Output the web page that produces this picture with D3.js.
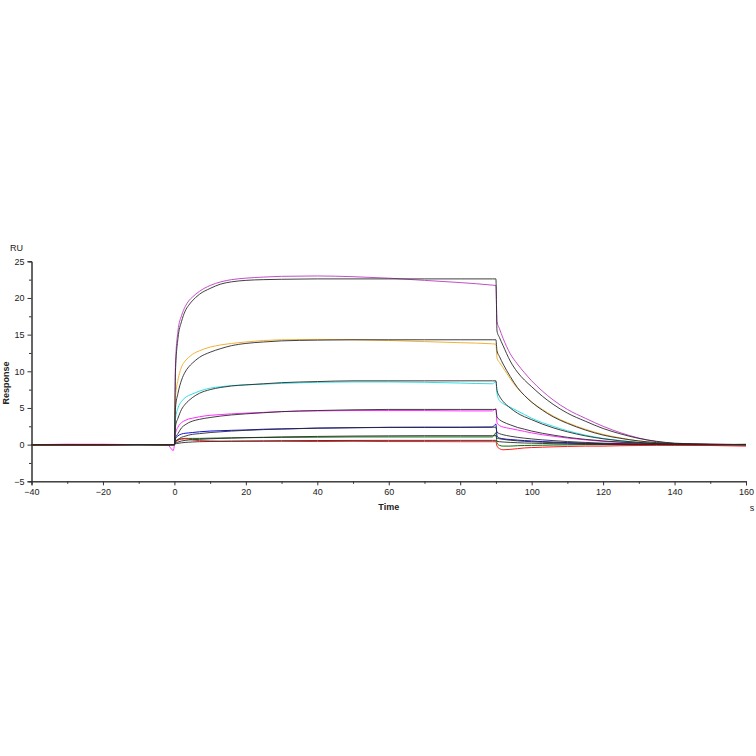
<!DOCTYPE html>
<html><head><meta charset="utf-8">
<script src="https://cdn.jsdelivr.net/npm/d3@7"></script>
<style>
html,body{margin:0;padding:0;background:#fff;}
svg{display:block;}
text{font-family:"Liberation Sans",Arial,sans-serif;fill:#222;}
</style></head>
<body>
<svg id="c" width="756" height="756"></svg>
<script>
// ---- data ----
const tBase  = [-40, -30, -20, -10, -2, -0.3];
const tAssoc = [0, 0.3, 1, 2, 3, 4, 5, 7, 10, 13, 16, 20, 25, 30, 40, 50, 60, 70, 80, 89, 90];
const tDiss  = [90.3, 91, 92, 94, 96, 98, 100, 103, 106, 110, 115, 120, 125, 130, 135, 140, 150, 160];

const data1 = [0, 0.03, 0, 0.02, 0, 0,
  0, 11, 15.5, 17.6, 18.8, 19.6, 20.1, 20.9, 21.7, 22.2, 22.5, 22.7, 22.85, 22.95, 23.0, 22.9, 22.7, 22.4, 22.1, 21.75, 21.7,
  16.8, 15.8, 14.5, 12.4, 11.0, 9.8, 8.7, 7.3, 6.1, 4.8, 3.6, 2.5, 1.6, 0.9, 0.4, 0.15, 0.05, 0.0];
const data2 = [-0.1, -0.05, 0, 0, -0.05, 0,
  0, 6.5, 8.8, 10.6, 11.4, 11.9, 12.3, 12.8, 13.3, 13.6, 13.8, 14.0, 14.2, 14.3, 14.35, 14.3, 14.2, 14.05, 13.9, 13.75, 13.7,
  11.8, 11.2, 10.5, 9.0, 7.7, 6.7, 5.8, 4.8, 3.9, 3.0, 2.1, 1.4, 0.9, 0.5, 0.25, 0.1, 0, -0.05];
const data3 = [0, 0.02, 0, -0.02, 0, 0,
  0, 3.5, 5.0, 5.9, 6.4, 6.7, 6.9, 7.3, 7.7, 7.9, 8.05, 8.15, 8.25, 8.35, 8.5, 8.55, 8.55, 8.5, 8.4, 8.3, 8.6,
  7.0, 6.0, 5.6, 5.1, 4.6, 4.1, 3.6, 3.0, 2.5, 1.9, 1.3, 0.85, 0.55, 0.3, 0.15, 0.05, 0, 0];
const data4 = [0, 0.05, 0.05, 0, 0, -0.8,
  0, 1.5, 2.4, 3.0, 3.3, 3.5, 3.6, 3.8, 4.0, 4.1, 4.2, 4.3, 4.4, 4.5, 4.6, 4.65, 4.65, 4.65, 4.6, 4.6, 4.9,
  3.0, 2.6, 2.4, 2.2, 2.0, 1.8, 1.6, 1.35, 1.15, 0.9, 0.65, 0.45, 0.3, 0.2, 0.1, 0.05, 0, 0];
const data5 = [0, 0, -0.03, 0.02, 0, 0,
  0, 0.8, 1.2, 1.45, 1.55, 1.6, 1.65, 1.75, 1.85, 1.9, 1.95, 2.0, 2.1, 2.15, 2.25, 2.3, 2.35, 2.35, 2.35, 2.4, 2.8,
  1.2, 0.9, 0.8, 0.7, 0.62, 0.55, 0.5, 0.42, 0.35, 0.28, 0.2, 0.12, 0.08, 0.05, 0.02, 0, 0, 0];
const data6 = [-0.05, 0, 0.02, 0, -0.05, 0,
  0, 0.4, 0.7, 0.8, 0.85, 0.85, 0.85, 0.85, 0.88, 0.9, 0.92, 0.95, 0.97, 1.0, 1.02, 1.05, 1.05, 1.05, 1.05, 1.05, 1.6,
  0.2, -0.1, -0.2, -0.2, -0.15, -0.12, -0.1, -0.08, -0.05, -0.03, 0, 0, 0, 0, 0, 0, 0, 0.05];
const data7 = [-0.05, -0.1, -0.1, 0, -0.05, 0,
  0, 0.3, 0.6, 0.75, 0.8, 0.75, 0.65, 0.55, 0.5, 0.45, 0.45, 0.45, 0.45, 0.45, 0.42, 0.45, 0.42, 0.42, 0.4, 0.4, 0.4,
  -0.2, -0.55, -0.7, -0.65, -0.55, -0.45, -0.4, -0.35, -0.3, -0.25, -0.2, -0.2, -0.15, -0.12, -0.1, -0.1, -0.12, -0.2];

const fit1 = [0, 0, 0, 0, 0, 0,
  0, 10, 14.5, 16.8, 18.2, 19.0, 19.6, 20.5, 21.3, 21.9, 22.2, 22.4, 22.5, 22.55, 22.6, 22.6, 22.6, 22.6, 22.6, 22.6, 22.6,
  15.5, 14.6, 13.5, 11.4, 9.9, 8.8, 7.9, 6.6, 5.5, 4.3, 3.2, 2.2, 1.45, 0.85, 0.45, 0.2, 0.05, 0];
const fit2 = [0, 0, 0, 0, 0, 0,
  0, 5.0, 7.0, 8.8, 9.9, 10.6, 11.1, 11.9, 12.6, 13.1, 13.5, 13.8, 14.0, 14.15, 14.25, 14.3, 14.3, 14.3, 14.3, 14.3, 14.3,
  12.8, 12.0, 11.0, 9.3, 7.8, 6.7, 5.8, 4.7, 3.8, 2.9, 2.0, 1.3, 0.85, 0.5, 0.28, 0.15, 0.05, 0];
const fit3 = [0, 0, 0, 0, 0, 0,
  0, 2.5, 3.6, 4.8, 5.5, 6.0, 6.4, 7.0, 7.5, 7.8, 8.0, 8.15, 8.3, 8.45, 8.6, 8.7, 8.7, 8.7, 8.7, 8.7, 8.7,
  7.4, 6.6, 5.9, 5.0, 4.3, 3.8, 3.4, 2.8, 2.3, 1.75, 1.2, 0.8, 0.5, 0.3, 0.15, 0.08, 0.02, 0];
const fit4 = [0, 0, 0, 0, 0, 0,
  0, 0.9, 1.5, 2.3, 2.7, 3.0, 3.2, 3.45, 3.7, 3.9, 4.05, 4.2, 4.35, 4.5, 4.65, 4.75, 4.8, 4.8, 4.8, 4.8, 4.8,
  3.8, 3.4, 3.1, 2.7, 2.35, 2.1, 1.85, 1.55, 1.3, 1.0, 0.72, 0.5, 0.35, 0.22, 0.13, 0.07, 0.02, 0];
const fit5 = [0, 0, 0, 0, 0, 0,
  0, 0.4, 0.7, 1.0, 1.15, 1.3, 1.4, 1.5, 1.65, 1.75, 1.85, 1.95, 2.05, 2.12, 2.25, 2.32, 2.36, 2.38, 2.38, 2.38, 2.38,
  1.7, 1.5, 1.35, 1.15, 1.0, 0.88, 0.78, 0.65, 0.55, 0.42, 0.3, 0.2, 0.14, 0.09, 0.05, 0.03, 0, 0];
const fit6 = [0, 0, 0, 0, 0, 0,
  0, 0.2, 0.35, 0.5, 0.58, 0.63, 0.67, 0.72, 0.8, 0.85, 0.9, 0.95, 1.0, 1.05, 1.12, 1.17, 1.2, 1.22, 1.22, 1.22, 1.22,
  0.9, 0.8, 0.72, 0.6, 0.52, 0.45, 0.4, 0.33, 0.27, 0.2, 0.14, 0.1, 0.07, 0.04, 0.02, 0.01, 0, 0];
const fit7 = [0, 0, 0, 0, 0, 0,
  0, 0.1, 0.18, 0.25, 0.3, 0.33, 0.36, 0.4, 0.43, 0.46, 0.48, 0.5, 0.52, 0.54, 0.56, 0.57, 0.58, 0.58, 0.58, 0.58, 0.58,
  0.45, 0.4, 0.36, 0.3, 0.26, 0.22, 0.2, 0.16, 0.13, 0.1, 0.07, 0.05, 0.03, 0.02, 0.01, 0, 0, 0];

const dataSeries = [data1, data2, data3, data4, data5, data6, data7];
const fitSeries  = [fit1, fit2, fit3, fit4, fit5, fit6, fit7];
const colors = ["#c24ec8", "#f0b23a", "#2ee0e6", "#ff2cff", "#1010e0", "#0a6a0a", "#ff1a1a"];

const xTicks = [-40, -20, 0, 20, 40, 60, 80, 100, 120, 140, 160];
const yTicks = [-5, 0, 5, 10, 15, 20, 25];

// ---- drawing ----
const svg = d3.select("#c");
const x = d3.scaleLinear().domain([-40, 160]).range([31.5, 746]);
const y = d3.scaleLinear().domain([-5, 25]).range([481.3, 261.3]);
const times = tBase.concat(tAssoc, tDiss);

svg.append("defs").append("clipPath").attr("id", "clip")
  .append("rect").attr("x", x(-40)).attr("y", y(25) - 2)
  .attr("width", x(160) - x(-40) + 1).attr("height", y(-5) - y(25) + 2);

const line = d3.line().x(d => x(d[0])).y(d => y(d[1])).curve(d3.curveMonotoneX);
const g = svg.append("g").attr("clip-path", "url(#clip)");

dataSeries.forEach((s, i) => {
  g.append("path").datum(times.map((t, j) => [t, s[j]]))
    .attr("d", line).attr("fill", "none").attr("stroke", colors[i]).attr("stroke-width", 1);
});
fitSeries.forEach(s => {
  g.append("path").datum(times.map((t, j) => [t, s[j]]))
    .attr("d", line).attr("fill", "none").attr("stroke", "#2a2a2a").attr("stroke-width", 0.9);
});

// axes
const xAxis = d3.axisBottom(x).tickValues(xTicks).tickSize(4).tickPadding(3).tickFormat(d3.format("d"));
const xMinor = d3.axisBottom(x).tickValues(d3.range(-30, 160, 20)).tickSize(2.5).tickFormat("");
const yAxis = d3.axisLeft(y).tickValues(yTicks).tickSize(4).tickPadding(3).tickFormat(d3.format("d"));
const yMinor = d3.axisLeft(y).tickValues(d3.range(-2.5, 25, 5)).tickSize(2.5).tickFormat("");

function styleAxis(sel) {
  sel.selectAll("path").attr("stroke", "#333");
  sel.selectAll("line").attr("stroke", "#333");
  sel.selectAll("text").attr("font-size", 9).attr("fill", "#222")
    .attr("font-family", "'Liberation Sans', Arial, sans-serif");
}
svg.append("g").attr("transform", `translate(0,${y(-5)})`).call(xMinor).call(styleAxis);
svg.append("g").attr("transform", `translate(0,${y(-5)})`).call(xAxis).call(styleAxis);
svg.append("g").attr("transform", `translate(${x(-40)},0)`).call(yMinor).call(styleAxis);
svg.append("g").attr("transform", `translate(${x(-40)},0)`).call(yAxis).call(styleAxis);

// titles
svg.append("text").attr("x", 10).attr("y", 251).attr("font-size", 9).text("RU");
svg.append("text").attr("transform", `translate(9,383) rotate(-90)`).attr("text-anchor", "middle")
  .attr("font-size", 9).attr("font-weight", "bold").text("Response");
svg.append("text").attr("x", x(60)).attr("y", 510).attr("text-anchor", "middle")
  .attr("font-size", 9).attr("font-weight", "bold").text("Time");
svg.append("text").attr("x", 752).attr("y", 511).attr("text-anchor", "middle")
  .attr("font-size", 9).text("s");
</script>
</body></html>
